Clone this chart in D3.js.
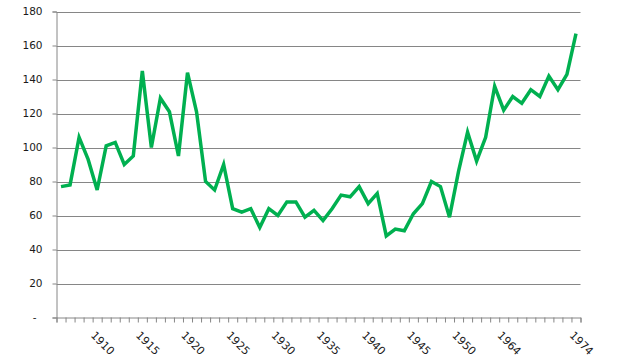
<!DOCTYPE html>
<html>
<head>
<meta charset="utf-8">
<script src="https://cdn.jsdelivr.net/npm/d3@7"></script>
<style>
  body { margin: 0; background: #fff; }
  text { font-family: "DejaVu Sans", Verdana, sans-serif; }
</style>
</head>
<body>
<div id="canvas"></div>
<script>
"use strict"

let drawingWidth = 620;
let drawingHeight = 362;

/* category labels: only some rows carry a year, the rest are blank */
let categories = [
    "", "", "", "", "1910", "", "", "", "", "1915",
    "", "", "", "", "1920", "", "", "", "", "1925",
    "", "", "", "", "1930", "", "", "", "", "1935",
    "", "", "", "", "1940", "", "", "", "", "1945",
    "", "", "", "", "1950", "", "", "", "", "1964",
    "", "", "", "", "", "", "", "1974"
];

/* series values */
let values = [
    77, 78, 106, 93, 75, 101, 103, 90, 95, 145,
    100, 129, 121, 95, 144, 121, 80, 75, 90, 64,
    62, 64, 53, 64, 60, 68, 68, 59, 63, 57,
    64, 72, 71, 77, 67, 73, 48, 52, 51, 61,
    67, 80, 77, 59, 86, 109, 92, 106, 136, 122,
    130, 126, 134, 130, 142, 134, 143, 167
];

let yTicks = [0, 20, 40, 60, 80, 100, 120, 140, 160, 180];

let plotLeft = 56.5, plotRight = 580.5, plotTop = 11.5, plotBottom = 317.5;

let drawing = d3.select("#canvas")
    .append("svg")
    .attr("width", drawingWidth)
    .attr("height", drawingHeight);

let xScale = d3.scaleBand()
    .domain(d3.range(categories.length))
    .range([plotLeft, plotRight]);

/* edges between categories, for the little tick marks */
let xEdges = d3.scaleLinear()
    .domain([0, categories.length])
    .range([plotLeft, plotRight]);

let yScale = d3.scaleLinear()
    .domain([0, 180])
    .range([plotBottom, plotTop]);

/* horizontal gridlines */
drawing.append("g")
    .selectAll("line")
    .data(yTicks.filter(d => d > 0))
    .join("line")
    .attr("x1", plotLeft)
    .attr("x2", plotRight)
    .attr("y1", d => Math.round(yScale(d)) + 0.5)
    .attr("y2", d => Math.round(yScale(d)) + 0.5)
    .attr("stroke", "#868686")
    .attr("stroke-width", 1);

/* y axis */
let yAxis = drawing.append("g")
    .attr("transform", "translate(" + plotLeft + ",0)")
    .call(d3.axisLeft(yScale)
        .tickValues(yTicks)
        .tickSize(4)
        .tickPadding(10)
        .tickFormat(d => d === 0 ? "-" : d));

yAxis.select(".domain").attr("stroke", "#868686");
yAxis.selectAll(".tick line").attr("stroke", "#868686");
yAxis.selectAll(".tick text")
    .attr("font-size", "10.5px")
    .attr("fill", "#1a1a1a")
    .attr("font-family", "DejaVu Sans, Verdana, sans-serif");
yAxis.selectAll(".tick text").filter(d => d === 0).attr("dx", -6);

/* x axis with a tick between every category */
let xAxis = drawing.append("g")
    .attr("transform", "translate(0," + plotBottom + ")")
    .call(d3.axisBottom(xEdges)
        .tickValues(d3.range(categories.length + 1))
        .tickSize(5)
        .tickFormat(""));

xAxis.select(".domain").attr("stroke", "#868686");
xAxis.selectAll(".tick line").attr("stroke", "#868686");

/* rotated year labels */
drawing.append("g")
    .selectAll("text")
    .data(categories.map((c, i) => ({ label: c, i: i })).filter(d => d.label !== ""))
    .join("text")
    .attr("transform", d => "translate(" + (xScale(d.i) + xScale.bandwidth() / 2 - 7) + ",336) rotate(45)")
    .attr("font-size", "11px")
    .attr("fill", "#1a1a1a")
    .text(d => d.label);

/* the green series line */
let seriesLine = d3.line()
    .x((d, i) => xScale(i) + xScale.bandwidth() / 2)
    .y(d => yScale(d));

drawing.append("path")
    .datum(values)
    .attr("d", seriesLine)
    .attr("fill", "none")
    .attr("stroke", "#00b050")
    .attr("stroke-width", 3.5)
    .attr("stroke-linejoin", "miter");
</script>
</body>
</html>
